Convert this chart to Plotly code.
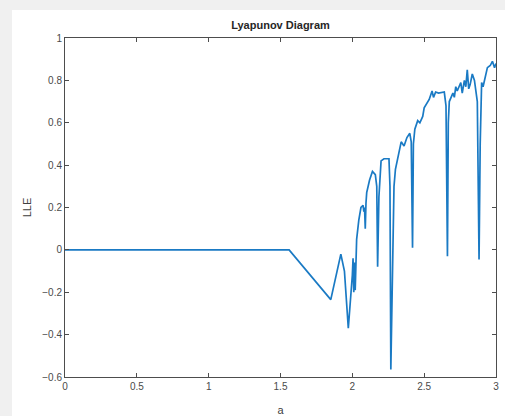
import plotly.graph_objects as go

a_vals = [0.0, 1.56, 1.85, 1.92, 1.945, 1.972, 2.0, 2.005, 2.01, 2.015, 2.02, 2.03, 2.045,
          2.06, 2.075, 2.08, 2.085, 2.09, 2.095, 2.10, 2.12, 2.14, 2.16, 2.17, 2.176, 2.185,
          2.20, 2.22, 2.255, 2.262, 2.268, 2.28, 2.29, 2.30, 2.32, 2.34, 2.36, 2.38, 2.40,
          2.41, 2.419, 2.425, 2.435, 2.455, 2.47, 2.49, 2.50, 2.52, 2.535, 2.555, 2.565,
          2.58, 2.60, 2.64, 2.652, 2.662, 2.668, 2.675, 2.69, 2.70, 2.71, 2.72, 2.73, 2.745,
          2.755, 2.765, 2.78, 2.79, 2.80, 2.81, 2.82, 2.835, 2.85, 2.87, 2.882, 2.89, 2.90,
          2.91, 2.92, 2.94, 2.96, 2.975, 2.99, 3.0]
lle_vals = [0.0, 0.0, -0.235, -0.02, -0.1, -0.37, -0.12, -0.04, -0.2, -0.06, -0.19, 0.05, 0.14,
            0.2, 0.21, 0.18, 0.2, 0.1, 0.22, 0.27, 0.33, 0.37, 0.355, 0.3, -0.08, 0.25,
            0.42, 0.43, 0.43, 0.3, -0.565, 0.05, 0.3, 0.38, 0.45, 0.51, 0.49, 0.53, 0.55,
            0.51, 0.01, 0.5, 0.57, 0.61, 0.6, 0.63, 0.67, 0.69, 0.71, 0.75, 0.72,
            0.745, 0.74, 0.745, 0.68, -0.03, 0.6, 0.7, 0.72, 0.74, 0.72, 0.77, 0.75, 0.77,
            0.79, 0.74, 0.8, 0.77, 0.85, 0.76, 0.78, 0.83, 0.8, 0.7, -0.045, 0.5, 0.79,
            0.77, 0.8, 0.86, 0.87, 0.89, 0.86, 0.88]

x_ticks = [0, 0.5, 1, 1.5, 2, 2.5, 3]
y_ticks = [-0.6, -0.4, -0.2, 0, 0.2, 0.4, 0.6, 0.8, 1]

W, H = 505, 416
L, R, T, B = 65, 9, 38, 39
PW, PH = W - L - R, H - T - B

fig = go.Figure()
fig.add_trace(go.Scatter(x=a_vals, y=lle_vals, mode="lines",
                         line=dict(color="#1a7ac4", width=1.7), showlegend=False))

axis_common = dict(showgrid=False, zeroline=False, showline=True, linecolor="#4d4d4d",
                   linewidth=1, mirror="ticks", ticks="inside", ticklen=4, automargin=False,
                   tickcolor="#4d4d4d", tickfont=dict(size=10, color="#4a4a4a"))

gray = "#f0f0f0"
fig.update_layout(
    width=W, height=H,
    margin=dict(l=L, r=R, t=T, b=B, autoexpand=False),
    paper_bgcolor="white", plot_bgcolor="white",
    font=dict(family="Liberation Sans, Arial, sans-serif", color="#404040"),
    title=dict(text="<b>Lyapunov Diagram</b>", x=0.5, xref="paper", xanchor="center",
               y=1 - 25 / H, yanchor="middle", font=dict(size=11, color="#262626"),
               automargin=False),
    xaxis=dict(range=[0, 3], tickvals=x_ticks, title=dict(text="a", standoff=18,
               font=dict(size=11)), **axis_common),
    yaxis=dict(range=[-0.6, 1], tickvals=y_ticks, title=dict(text="LLE", standoff=8,
               font=dict(size=11)), **axis_common),
    shapes=[
        dict(type="rect", xref="paper", yref="paper", layer="below",
             x0=-L / PW - 0.05, x1=(12 - L) / PW, y0=-B / PH - 0.05, y1=(H - B + 5) / PH,
             fillcolor=gray, line=dict(width=0)),
        dict(type="rect", xref="paper", yref="paper", layer="below",
             x0=-L / PW - 0.05, x1=1 + R / PW + 0.05, y0=(H - B - 10) / PH, y1=(H - B + 5) / PH,
             fillcolor=gray, line=dict(width=0)),
    ],
)

fig.write_html("out.html")
